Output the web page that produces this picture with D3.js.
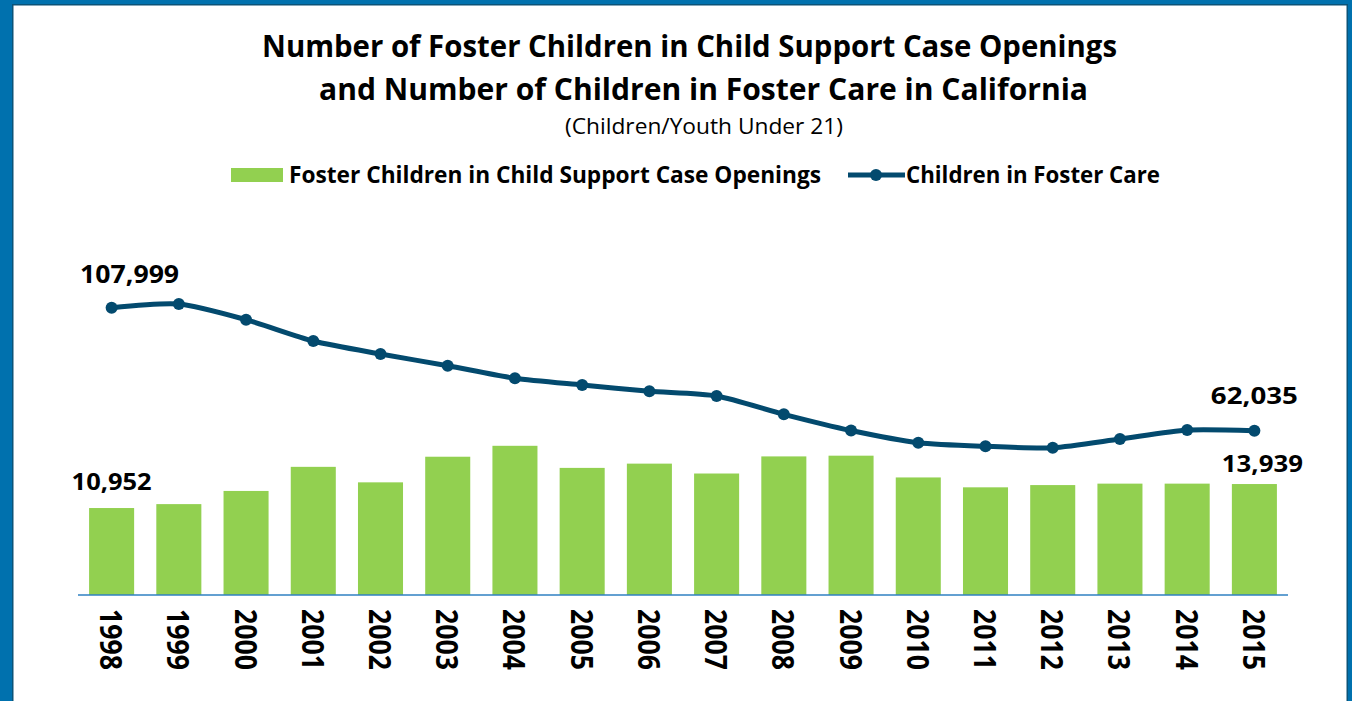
<!DOCTYPE html>
<html><head><meta charset="utf-8">
<script src="https://cdn.jsdelivr.net/npm/d3@7"></script>
<style>
html,body{margin:0;padding:0;background:#0071AE;overflow:hidden;}
svg{display:block;}
text{font-family:"Open Sans","Noto Sans",sans-serif;fill:#000;}
</style></head>
<body>
<svg id="chart" width="1352" height="701"></svg>
<script>
const years = ["1998","1999","2000","2001","2002","2003","2004","2005","2006","2007","2008","2009","2010","2011","2012","2013","2014","2015"];
const caseOpenings = [10952,11440,13080,16080,14150,17340,18700,15950,16480,15250,17380,17470,14760,13530,13810,13990,13990,13939];
const fosterCare = [107999,109380,103520,95560,90700,86330,81620,79110,76760,75000,68160,62100,57550,56200,55680,58930,62300,62035];
const titleLines = ["Number of Foster Children in Child Support Case Openings","and Number of Children in Foster Care in California"];
const subtitle = "(Children/Youth Under 21)";
const seriesNames = ["Foster Children in Child Support Case Openings","Children in Foster Care"];

const barColor = "#92D050", lineColor = "#034A6E", axisColor = "#2F80C2";
const svg = d3.select("#chart");

// frame
svg.append("rect").attr("x",0).attr("y",0).attr("width",1352).attr("height",701).attr("fill","#0071AE");
svg.append("rect").attr("x",12.75).attr("y",4.75).attr("width",1334.5).attr("height",720)
  .attr("fill","#fff").attr("stroke","#0B5378").attr("stroke-width",1.5);

function fit(sel, w){ sel.attr("textLength", w).attr("lengthAdjust","spacingAndGlyphs"); return sel; }

// titles
fit(svg.append("text").attr("x",689.5).attr("y",57).attr("text-anchor","middle")
  .attr("font-size",31).attr("font-weight",700).text(titleLines[0]), 855);
fit(svg.append("text").attr("x",703.5).attr("y",100).attr("text-anchor","middle")
  .attr("font-size",31).attr("font-weight",700).text(titleLines[1]), 769);
fit(svg.append("text").attr("x",704).attr("y",134).attr("text-anchor","middle")
  .attr("font-size",21).attr("fill","#222").text(subtitle), 278);

// legend
svg.append("rect").attr("x",231).attr("y",168).attr("width",52).attr("height",14).attr("fill",barColor);
fit(svg.append("text").attr("x",289).attr("y",183).attr("font-size",24).attr("font-weight",700).text(seriesNames[0]), 532);
svg.append("line").attr("x1",848).attr("x2",905).attr("y1",175).attr("y2",175).attr("stroke",lineColor).attr("stroke-width",5);
svg.append("circle").attr("cx",876).attr("cy",175).attr("r",6).attr("fill",lineColor);
fit(svg.append("text").attr("x",906).attr("y",183).attr("font-size",24).attr("font-weight",700).text(seriesNames[1]), 254);

// scales
const x = d3.scaleBand().domain(years).range([78,1288]).paddingInner(0.33).paddingOuter(0.165);
const yBar = d3.scaleLinear().domain([0,20000]).range([596, 596-20000/124.5]);
const yLine = d3.scaleLinear().domain([62035,107999]).range([430.7,307.7]);
const baseY = 595;

// bars
svg.append("g").selectAll("rect").data(caseOpenings).join("rect")
  .attr("x",(d,i)=>x(years[i])).attr("width",x.bandwidth())
  .attr("y",d=>yBar(d)).attr("height",d=>baseY-yBar(d)).attr("fill",barColor);

// axis line
svg.append("line").attr("x1",78).attr("x2",1288).attr("y1",baseY).attr("y2",baseY)
  .attr("stroke",axisColor).attr("stroke-width",1.6);

// line
const cx = (i)=>x(years[i])+x.bandwidth()/2;
const line = d3.line().x((d,i)=>cx(i)).y(d=>yLine(d)).curve(d3.curveCardinal.tension(0.3));
svg.append("path").datum(fosterCare).attr("d",line).attr("fill","none")
  .attr("stroke",lineColor).attr("stroke-width",5).attr("stroke-linejoin","round");
svg.append("g").selectAll("circle").data(fosterCare).join("circle")
  .attr("cx",(d,i)=>cx(i)).attr("cy",d=>yLine(d)).attr("r",6).attr("fill",lineColor);

// year labels
svg.append("g").selectAll("text").data(years).join("text")
  .attr("transform",(d,i)=>`translate(${cx(i)-1},609) rotate(90)`)
  .attr("dy","0.35em").attr("font-size",30).attr("font-weight",700).text(d=>d)
  .attr("textLength",61).attr("lengthAdjust","spacingAndGlyphs");

// data labels
const fmt = d3.format(",");
const last = years.length-1;
fit(svg.append("text").attr("x",cx(0)+18).attr("y",283).attr("text-anchor","middle")
  .attr("font-size",25).attr("font-weight",700).text(fmt(fosterCare[0])), 99);
fit(svg.append("text").attr("x",cx(0)).attr("y",490).attr("text-anchor","middle")
  .attr("font-size",24).attr("font-weight",700).text(fmt(caseOpenings[0])), 80);
fit(svg.append("text").attr("x",cx(last)).attr("y",404).attr("text-anchor","middle")
  .attr("font-size",24).attr("font-weight",700).text(fmt(fosterCare[last])), 87);
fit(svg.append("text").attr("x",cx(last)+8).attr("y",471.5).attr("text-anchor","middle")
  .attr("font-size",24).attr("font-weight",700).text(fmt(caseOpenings[last])), 81);
</script>
</body></html>
